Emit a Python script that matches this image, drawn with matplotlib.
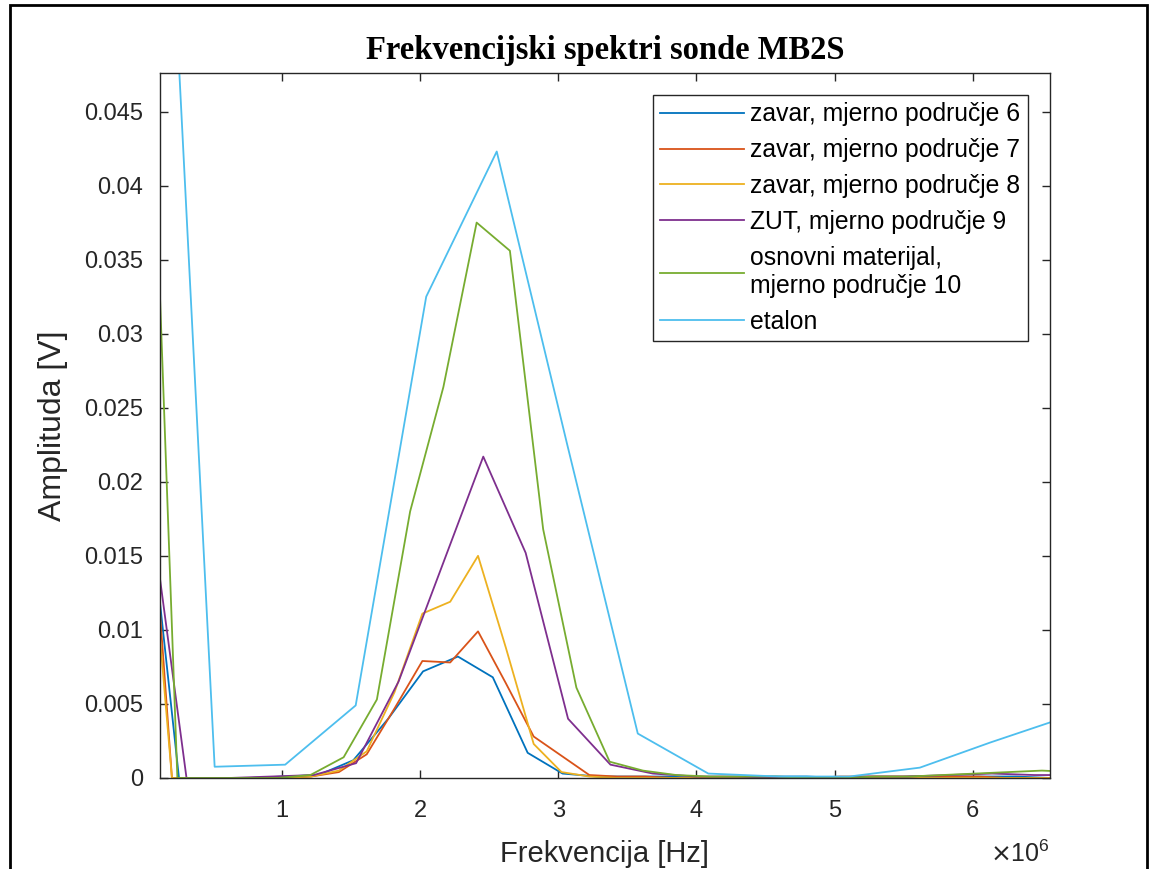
import matplotlib
matplotlib.use("Agg")
import matplotlib.pyplot as plt
import numpy as np
from matplotlib.patches import Rectangle
from matplotlib.ticker import FuncFormatter

plt.rcParams['font.family'] = ['Liberation Sans', 'DejaVu Sans']

# frequency step (Hz) of each spectrum
step_6 = 0.2525e6
step_7 = 0.2015e6
step_8 = 0.2015e6
step_9 = 0.307e6
step_10 = 0.2408e6
step_et = 0.5107e6

# amplitudes [V]
amp_6 = [0.0217, 0.0, 0.0, 0.0, 0.0001, 0.0002, 0.0012, 0.0040, 0.0072, 0.0082,
         0.0068, 0.0017, 0.0003, 0.0001, 0.0001, 0.0001, 0.0, 0.0, 0.0001, 0.0001,
         0.0, 0.0, 0.0001, 0.0001, 0.0001, 0.0001, 0.0, 0.0]
amp_7 = [0.026, 0.0, 0.0, 0.0, 0.0, 0.0, 0.0001, 0.0004, 0.0016, 0.0047,
         0.0079, 0.0078, 0.0099, 0.0064, 0.0028, 0.0015, 0.0002, 0.0001, 0.0001, 0.0,
         0.0, 0.0, 0.0, 0.0, 0.0, 0.0001, 0.0001, 0.0001, 0.0001, 0.0001,
         0.0001, 0.0, 0.0, 0.0]
amp_8 = [0.0221, 0.0, 0.0, 0.0, 0.0, 0.0, 0.0001, 0.0005, 0.0018, 0.0058,
         0.0111, 0.0119, 0.0150, 0.0088, 0.0023, 0.0004, 0.0001, 0.0, 0.0, 0.0,
         0.0, 0.0, 0.0, 0.0, 0.0, 0.0, 0.0, 0.0, 0.0, 0.0,
         0.0, 0.0, 0.0, 0.0]
amp_9 = [0.0215, 0.0, 0.0, 0.0001, 0.0002, 0.0010, 0.0065, 0.0141, 0.0217, 0.0152,
         0.0040, 0.0009, 0.0003, 0.0001, 0.0001, 0.0, 0.0, 0.0001, 0.0001, 0.0002,
         0.0003, 0.0002, 0.0002]
amp_10 = [0.0622, 0.0, 0.0, 0.0, 0.0, 0.0002, 0.0014, 0.0053, 0.0180, 0.0264,
          0.0375, 0.0356, 0.0168, 0.0061, 0.0011, 0.0005, 0.0002, 0.0001, 0.0001, 0.0001,
          0.0, 0.0, 0.0001, 0.0001, 0.0002, 0.0003, 0.0004, 0.0005, 0.0004]
amp_et = [0.0944, 0.00076, 0.0009, 0.0049, 0.0325, 0.0423, 0.0225, 0.0030, 0.0003, 0.0001,
          0.0001, 0.0007, 0.0024, 0.0040]

labels = ['zavar, mjerno područje 6', 'zavar, mjerno područje 7',
          'zavar, mjerno područje 8', 'ZUT, mjerno područje 9',
          'osnovni materijal,\nmjerno područje 10', 'etalon']
colors = ['#0072BD', '#D95319', '#EDB120', '#7E2F8E', '#77AC30', '#4DBEEE']

y_ticks = [0, 0.005, 0.01, 0.015, 0.02, 0.025, 0.03, 0.035, 0.04, 0.045]
x_ticks = [1e6, 2e6, 3e6, 4e6, 5e6, 6e6]

fig = plt.figure(figsize=(11.53, 8.69), dpi=100)
ax = fig.add_axes([160/1153, 91/869, 890/1153, 705/869])

series = [(step_6, amp_6), (step_7, amp_7), (step_8, amp_8),
          (step_9, amp_9), (step_10, amp_10), (step_et, amp_et)]
for (st, amp), lab, c in zip(series, labels, colors):
    freq = np.arange(len(amp)) * st
    ax.plot(freq, amp, color=c, lw=1.3, label=lab)

ax.set_xlim(0.115e6, 6.56e6)
ax.set_ylim(0, 0.0476)
ax.set_xticks(x_ticks)
ax.set_yticks(y_ticks)
ax.xaxis.set_major_formatter(FuncFormatter(lambda v, p: '%g' % (v / 1e6)))
ax.yaxis.set_major_formatter(FuncFormatter(lambda v, p: '%g' % v))

gray = '#262626'
ax.tick_params(direction='in', length=6, width=1, top=True, right=True,
               labelsize=17, colors=gray)
ax.tick_params(axis='x', pad=16)
ax.tick_params(axis='y', pad=12)
for s in ax.spines.values():
    s.set_color(gray)
    s.set_linewidth(1)

ax.set_xlabel('Frekvencija [Hz]', fontsize=21, color=gray, labelpad=13)
ax.set_ylabel('Amplituda [V]', fontsize=23, color=gray, labelpad=12)
ax.set_title('Frekvencijski spektri sonde MB2S', fontsize=23.5, fontweight='bold',
             family='Liberation Serif', pad=10)
ax.text(1.0, -0.107, r'$\times\mathregular{10^{6}}$', transform=ax.transAxes,
        ha='right', va='center', fontsize=18, color=gray)

leg = ax.legend(loc='upper right', bbox_to_anchor=(1 - 22/890, 1 - 22/705),
                borderaxespad=0, fontsize=17.8, frameon=True, fancybox=False,
                framealpha=1, edgecolor=gray, handlelength=3.36, handletextpad=0.28,
                labelspacing=0.48, borderpad=0.3)
leg.get_frame().set_linewidth(1)

# outer frame of the exported figure
fig.patches.append(Rectangle((10/1153, -0.02), 1137/1153, 1 - 5/869 + 0.02,
                             transform=fig.transFigure, fill=False,
                             edgecolor='black', lw=2))

fig.savefig('out.png', dpi=100)
